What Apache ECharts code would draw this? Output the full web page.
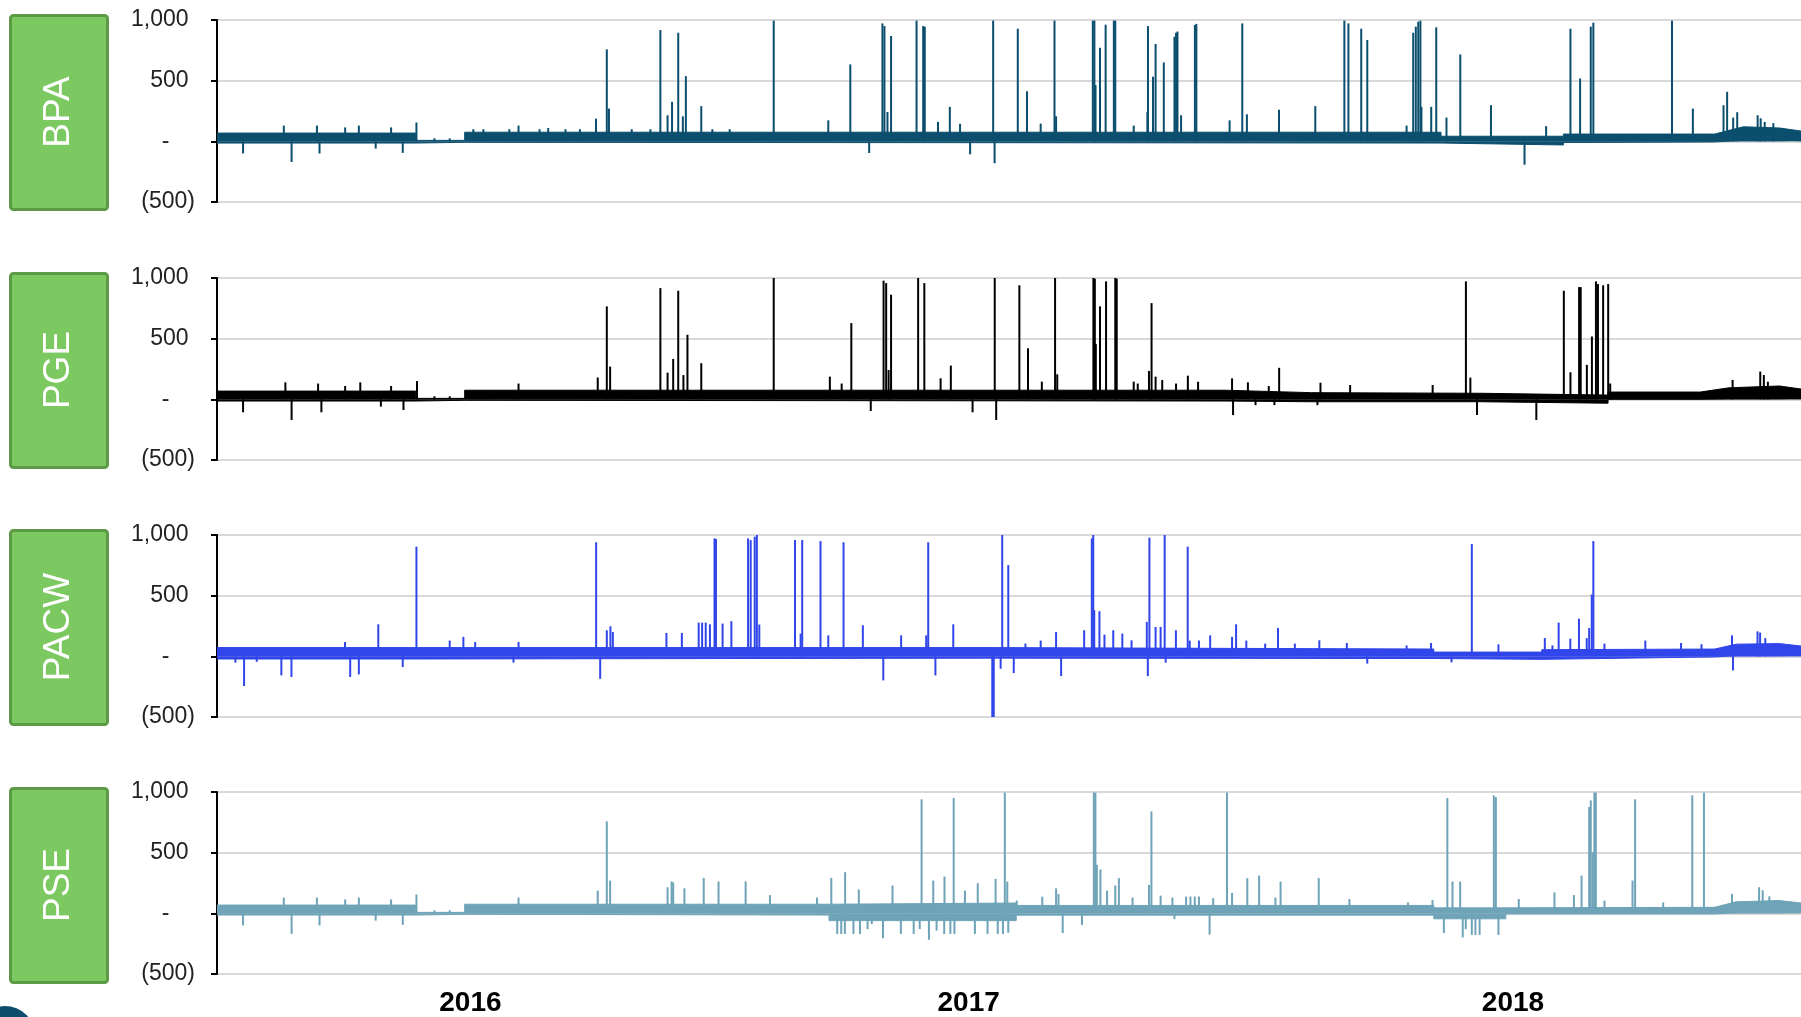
<!DOCTYPE html>
<html>
<head>
<meta charset="utf-8">
<title>BPA / PGE / PACW / PSE</title>
<script src="https://cdn.jsdelivr.net/npm/echarts@6.0.0/dist/echarts.min.js"></script>
<style>
    html, body { margin:0; padding:0; background:#fff; }
    #chart { width:1801px; height:1017px; }
</style>
</head>
<body>
<div id="chart"></div>
<script>
// x = day index from the start of the series, y = MW
var names = ['BPA', 'PGE', 'PACW', 'PSE'];
var colors = ['#0b4e6d', '#000000', '#3045ea', '#6ea3b8'];
var yearPos = [176, 522, 900];
var yearLabels = ['2016', '2017', '2018'];

// noise band: [day, low, high]
var bpaBand = [[0,-14,68],[138,-14,68],[138,-8,8],[172,-8,8],[172,-14,75],[850,-14,75],[850,-30,42],[935,-30,42],[935,-10,60],[1040,-5,60],[1060,10,120],[1085,10,110],[1100,5,85]];
var pgeBand = [[0,-14,68],[138,-14,68],[138,-8,8],[172,-8,8],[172,-14,75],[700,-14,75],[760,-20,55],[878,-20,50],[878,-32,35],[966,-32,35],[966,0,60],[1030,0,60],[1050,5,95],[1085,5,110],[1100,5,85]];
var pacwBand = [[0,-22,72],[140,-22,72],[140,-15,72],[540,-15,72],[540,-18,60],[845,-18,60],[845,-25,35],[920,-25,35],[920,-10,55],[1040,-5,60],[1055,5,100],[1085,5,105],[1100,5,85]];
var pseBand = [[0,-14,68],[138,-14,68],[138,-8,8],[172,-8,8],[172,-14,75],[425,-14,75],[425,-60,85],[555,-60,85],[555,-15,65],[845,-15,65],[845,-45,45],[895,-45,45],[895,-5,50],[1040,-5,50],[1055,5,95],[1085,5,105],[1100,5,85]];

// spikes: [day, value]
var bpaSpikes = [[18.1,-100],[46.4,130],[51.8,-170],[69.4,130],[71.2,-100],[89,115],[98.5,130],[110.2,-60],[120.9,115],[129,-95],[138.5,155],[151,25],[161.6,25],[178,100],[185,100],[203,100],[209.4,130],[224,100],[230,110],[242,100],[252,100],[263.2,187],[270.7,758],[272.2,270],[288,100],[301,100],[307.9,917],[312.9,215],[316,325],[320.3,895],[323.5,206],[325.6,537],[336.3,290],[344,100],[356,100],[386.6,995],[424.5,173],[439.8,634],[452.9,-96],[462.1,972],[463.5,950],[465.6,242],[468.1,868],[485.8,995],[490.4,950],[491.5,945],[500.7,160],[508.9,284],[516,145],[523,-107],[539,995],[540,-180],[556.1,928],[562.5,413],[572,146],[581.6,995],[582.7,206],[608.2,995],[609.3,995],[610.1,463],[613.2,771],[617.1,961],[622.8,995],[623.8,995],[636.6,130],[646.1,240],[646.5,950],[650,532],[651.8,802],[657.5,650],[664.9,862],[666,895],[667,905],[669.5,215],[679.1,959],[680.1,968],[703.2,173],[712,972],[715.2,223],[737.5,260],[762.7,290],[782.9,995],[785.7,972],[794.6,928],[798.8,835],[826.1,130],[830.7,895],[832.5,945],[834.2,986],[835.7,995],[836.4,284],[843.2,284],[846.7,940],[853.8,196],[863.4,716],[884.7,298],[908,-193],[923,125],[939.9,928],[946.6,518],[954,945],[955.8,978],[1010.4,995],[1024.9,270],[1046.2,298],[1048.7,408],[1052.9,196],[1055.7,240],[1069.9,215],[1072,190],[1074.8,160],[1080.8,150]];
var pgeSpikes = [[18.1,-107],[47.5,140],[51.8,-170],[70.2,130],[72.5,-107],[89,110],[99.5,140],[113.8,-60],[120.9,110],[129.5,-88],[138.9,150],[151,25],[161.6,25],[209.4,130],[264.4,180],[270.7,766],[273,270],[307.9,917],[312.9,220],[316.8,333],[320.3,895],[323.9,200],[326.7,532],[336.3,298],[386.6,1000],[425.6,187],[433.8,130],[440.5,628],[454,-96],[462.9,978],[464.7,958],[466.4,242],[468.1,862],[486.9,1000],[491.2,958],[502.5,173],[509.6,278],[524.7,-107],[540.1,1000],[541.1,-170],[557.2,940],[563.2,421],[572.8,146],[582,1000],[583.5,206],[608.6,1000],[609.6,995],[610.3,455],[613.2,766],[617.4,972],[623.8,1000],[624.8,995],[636.6,146],[639.4,130],[647.2,234],[649,793],[651.8,187],[656.4,160],[666,130],[674.2,195],[681.3,145],[704.9,173],[705.6,-130],[715.9,140],[721.2,-48],[730.4,110],[734.3,-48],[737.6,260],[764.2,-48],[766.3,137],[786.9,118],[844.2,118],[867.3,972],[870.4,179],[875,-130],[916.2,-170],[935.3,895],[939.9,223],[945.9,925],[947,925],[951.3,284],[954.8,518],[957.6,972],[959,950],[962.6,940],[966.1,950],[967.5,130],[1052.5,160],[1071.7,229],[1074.2,200],[1077,145]];
var pacwSpikes = [[12.8,-52],[18.8,-245],[27.6,-45],[44.7,-157],[51.7,-170],[88.9,118],[92.5,-170],[98.5,-149],[112,264],[129,-88],[138.5,904],[161.6,130],[171.1,160],[179.3,118],[205.9,-52],[209.4,118],[263.3,940],[266.1,-185],[270.7,215],[273.2,248],[274.9,200],[312.1,193],[322.8,193],[334.5,278],[336.9,278],[339.4,278],[342.3,264],[345.5,972],[346.5,967],[351.1,270],[357.2,290],[368.8,972],[370.6,958],[373.4,986],[374.9,1000],[376.6,262],[401.4,958],[405.3,187],[406.4,958],[419.1,950],[424.5,173],[435.1,940],[448.5,256],[462.7,-198],[475.1,173],[492.5,173],[493.9,940],[498.9,-157],[511.3,264],[538.4,-500],[539.4,-500],[544.2,-102],[545.3,1000],[549.5,752],[553.3,-138],[561.4,105],[572,130],[582.7,200],[586.2,-163],[602.2,215],[607.5,972],[608.5,1000],[609.2,380],[612.8,372],[616.3,179],[622.4,215],[628.7,187],[635.1,132],[645.7,284],[646.4,-163],[647.5,978],[651.8,242],[655.3,242],[658.1,1000],[658.8,-52],[665.9,215],[674.1,904],[675.5,130],[681.9,130],[689.7,173],[704.9,160],[707.7,264],[714.8,130],[727.9,105],[736.8,234],[748.5,105],[765.5,132],[784.6,110],[798.8,-60],[826.1,90],[843.1,110],[857.3,-50],[871.4,925],[889.9,99],[922.1,151],[927.4,90],[931.7,278],[939.8,146],[945.8,311],[951.2,150],[952.9,234],[954.7,510],[955.8,950],[963.5,105],[991.9,130],[1016.7,110],[1030.9,100],[1052.1,173],[1052.8,-116],[1069.8,206],[1071.6,196],[1075.2,150]];
var pseSpikes = [[18.1,-100],[46.4,130],[51.8,-170],[69.4,130],[71.2,-100],[89,115],[98.5,130],[110.2,-60],[120.9,115],[129,-95],[138.5,155],[151,25],[161.6,25],[209.4,130],[264.4,187],[270.7,758],[273,270],[312.9,215],[315.7,262],[316.8,255],[324.6,206],[338,292],[348.3,262],[367.1,264],[384,150],[416.7,130],[426.6,292],[430.7,-170],[433.5,-170],[436,-170],[436.2,339],[442,-170],[445.7,196],[446.5,-170],[451.8,-130],[454.7,-88],[462.5,-205],[469.1,229],[474.9,-170],[483.8,-170],[488,-130],[489.3,940],[494.4,-218],[497.4,270],[499.7,-143],[505,-170],[505.2,303],[509.3,-170],[511.6,950],[512.1,-170],[519.4,187],[526.3,-170],[528.3,248],[535.1,-170],[540.7,284],[542.2,-170],[545.8,-170],[547.1,995],[548.8,262],[549.5,-160],[555.4,105],[573.1,137],[582.7,206],[584.4,160],[587.3,-163],[600.7,-96],[608.9,995],[610,995],[611,400],[613.5,361],[618.1,187],[623.8,229],[626.3,290],[635.8,130],[647.2,234],[648.9,840],[655.3,146],[663.5,130],[664.9,-48],[673,138],[676,138],[679,138],[681.9,138],[689.3,-176],[691.8,125],[701.4,995],[704.9,168],[715.5,290],[723.7,311],[735,130],[738.6,262],[765.1,290],[786.4,118],[827.1,90],[844.1,110],[852,-163],[854.4,950],[858,262],[863.3,262],[865.1,-198],[867.2,-130],[871.4,-178],[873.9,-178],[876.8,-178],[886.7,972],[888.1,958],[889.9,-178],[904,118],[928.8,173],[942.3,150],[947.6,311],[952.9,876],[954,931],[955.4,504],[956.5,995],[957.5,995],[963.5,105],[983,270],[984.8,940],[1004.3,90],[1024.5,972],[1032.6,995],[1052.1,160],[1070.9,215],[1073.4,190],[1078,140]];

var bands = [bpaBand, pgeBand, pacwBand, pseBand];
var spikes = [bpaSpikes, pgeSpikes, pacwSpikes, pseSpikes];

var gridTops = [20, 278, 535, 792];
var boxTops = [14, 272, 529, 787];
var font = '"Liberation Sans", Arial, sans-serif';

var grids = [], xAxes = [], yAxes = [], series = [], graphics = [];
for (var i = 0; i < 4; i++) {
    grids.push({left: 217, right: 0, top: gridTops[i], height: 182});
    xAxes.push({
        type: 'value', gridIndex: i, min: 0, max: 1100,
        axisLine: {show: false}, axisTick: {show: false}, splitLine: {show: false},
        axisLabel: {
            show: i == 3, customValues: yearPos, margin: 15,
            fontFamily: font, fontSize: 28, fontWeight: 'bold', color: '#000',
            formatter: function (v) { return yearLabels[yearPos.indexOf(v)]; }
        }
    });
    yAxes.push({
        type: 'value', gridIndex: i, min: -500, max: 1000, interval: 500,
        axisLine: {show: true, onZero: false, lineStyle: {color: '#000', width: 2}},
        axisTick: {show: true, length: 6, lineStyle: {color: '#000', width: 2}},
        splitLine: {lineStyle: {color: '#d9d9d9', width: 2}},
        axisLabel: {
            margin: 22, fontFamily: font, fontSize: 23, color: '#222',
            // accounting style: positives padded for the ")" slot
            formatter: function (v) {
                if (v == 0) return '-    ';
                if (v < 0) return '(' + (-v) + ')';
                return (v >= 1000 ? '1,000' : String(v)) + ' ';
            }
        }
    });
    var band = bands[i];
    series.push({
        type: 'line', xAxisIndex: i, yAxisIndex: i, silent: true, showSymbol: false,
        data: band.map(function (b) { return [b[0], b[2]]; }),
        lineStyle: {width: 1, color: colors[i]},
        areaStyle: {color: colors[i], opacity: 1, origin: 0}
    });
    series.push({
        type: 'line', xAxisIndex: i, yAxisIndex: i, silent: true, showSymbol: false,
        data: band.map(function (b) { return [b[0], b[1]]; }),
        lineStyle: {width: 1, color: colors[i]},
        areaStyle: {color: colors[i], opacity: 1, origin: 0}
    });
    series.push({
        type: 'bar', xAxisIndex: i, yAxisIndex: i, silent: true,
        barWidth: 2, data: spikes[i],
        itemStyle: {color: colors[i]}
    });

    graphics.push({
        type: 'rect', z: 10,
        shape: {x: 10.5, y: boxTops[i] + 1.5, width: 97, height: 194, r: 3},
        style: {fill: '#7cc962', stroke: '#5c9a46', lineWidth: 3}
    });
    graphics.push({
        type: 'text', z: 11, x: 59, y: boxTops[i] + 98, rotation: Math.PI / 2,
        style: {
            text: names[i], fill: '#fff', font: '37px ' + font,
            align: 'center', verticalAlign: 'middle',
            textAlign: 'center', textVerticalAlign: 'middle'
        }
    });
}
graphics.push({
    type: 'circle', shape: {cx: 5, cy: 1036, r: 30},
    style: {fill: '#0c4e6c'}
});

var myChart = echarts.init(document.getElementById('chart'));
myChart.setOption({
    animation: false,
    backgroundColor: '#fff',
    grid: grids,
    xAxis: xAxes,
    yAxis: yAxes,
    series: series,
    graphic: graphics
});
</script>
</body>
</html>
